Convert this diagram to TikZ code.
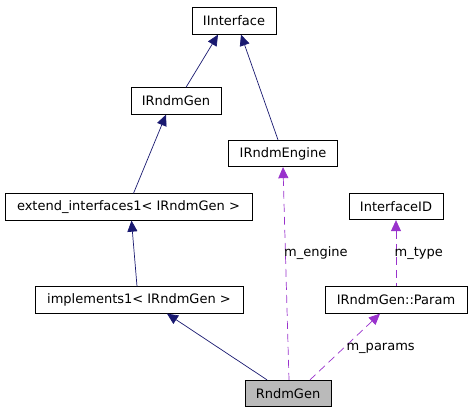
\documentclass[tikz,border=0pt]{standalone}
\usepackage{fontspec}
\setmainfont{DejaVu Sans}
\usepackage{tikz}
\usetikzlibrary{arrows.meta}
\usetikzlibrary{positioning}
\definecolor{navyline}{RGB}{25,25,112}
\definecolor{purpleline}{RGB}{153,50,204}

\begin{document}
\begin{tikzpicture}[x=1pt, y=-1pt, >={Triangle[length=11pt,width=10pt]},
  font=\fontsize{13}{15}\selectfont,
  every class/.style={draw, line width=0.8pt, inner sep=0pt, minimum height=26.5pt},
  inherit/.style={<-, navyline, line width=0.7pt},
  usage/.style={<-, purpleline, line width=0.7pt, dash pattern=on 8pt off 5pt},
  member/.style={text=black}]

\useasboundingbox (0,0) rectangle (472,413);

\node [every class/.try, minimum width=84pt]  (iinterface)  at (234,21)    {IInterface};
\node [every class/.try, minimum width=90pt]  (irndmgen)    at (176,101)   {IRndmGen};
\node [every class/.try, minimum width=109pt] (irndmengine) at (283,153.5) {IRndmEngine};
\node [every class/.try, minimum width=247pt] (extend)      at (128.5,207) {extend\_interfaces1< IRndmGen >};
\node [every class/.try, minimum width=94pt]  (interfaceid) at (396,206.5) {InterfaceID};
\node [every class/.try, minimum width=208pt] (implements)  at (139,300)   {implements1< IRndmGen >};
\node [every class/.try, minimum width=142pt] (param)       at (396,300)   {IRndmGen::Param};
\node [every class/.try, minimum width=86pt, fill=black!27] (rndmgen) at (288,393.5) {RndmGen};

% inheritance
\foreach \a/\sa/\b/\sb in {iinterface/-16/irndmgen/10, iinterface/7/irndmengine/-5,
    irndmgen/-10/extend/5, extend/3/implements/-2}
  \draw [inherit] ([xshift=\sa]\a.south) -- ([xshift=\sb]\b.north);

\draw [inherit] ([xshift=28]implements.south) -- ([xshift=-21]rndmgen.north);

% members
\draw [usage] (irndmengine.south) -- ([xshift=1]rndmgen.north)
  node [member, pos=0.405, right=-5pt] {m\_engine};
\draw [usage] ([xshift=-16]param.south) -- ([xshift=22]rndmgen.north)
  node [member, pos=0.53, right=0pt] {m\_params};
\draw [usage] (interfaceid.south) -- (param.north)
  node [member, pos=0.5, right=-5pt] {m\_type};

\end{tikzpicture}
\end{document}
